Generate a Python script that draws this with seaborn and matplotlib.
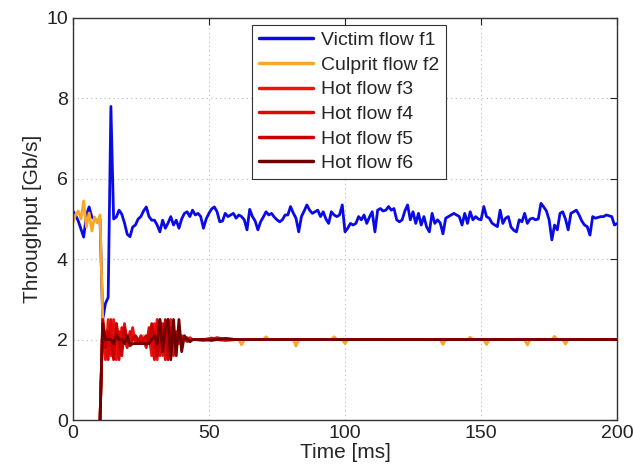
import pandas as pd
import matplotlib
matplotlib.use("Agg")
import matplotlib.pyplot as plt
import seaborn as sns

# Victim flow f1, sampled every 1 ms from 0 to 200 ms
victim_time = list(range(0, 201))
victim_tput = [
    5.2, 5.1, 4.95, 4.75, 4.55, 5.1, 5.3, 5.05, 5.0, 4.95,
    5.0, 2.5, 2.9, 3.05, 7.8, 5.0, 5.05, 5.22, 5.12, 4.9,
    4.62, 4.56, 4.8, 4.85, 5.0, 5.06, 5.2, 5.3, 5.06, 4.97,
    4.97, 4.85, 4.68, 4.97, 4.77, 4.9, 5.06, 4.85, 4.97, 4.77,
    5.0, 5.14, 5.18, 5.06, 5.22, 5.1, 5.14, 5.06, 4.77, 5.0,
    5.14, 5.25, 5.3, 5.18, 4.93, 4.95, 5.14, 5.06, 5.1, 5.14,
    5.02, 5.1, 5.06, 4.98, 4.73, 5.24, 5.06, 4.95, 4.73, 4.93,
    5.05, 5.18, 5.1, 5.14, 5.05, 4.98, 4.93, 4.98, 5.1, 5.1,
    5.31, 5.15, 5.02, 4.68, 5.06, 5.2, 5.35, 5.22, 5.14, 5.18,
    5.22, 5.06, 5.18, 5.0, 4.89, 5.18, 5.1, 5.06, 5.1, 5.35,
    4.68, 4.77, 4.89, 4.85, 4.89, 5.06, 4.98, 5.1, 4.89, 5.05,
    5.18, 4.68, 5.22, 5.26, 5.2, 5.22, 5.31, 5.22, 5.26, 4.98,
    4.93, 4.98, 5.2, 5.35, 4.98, 5.18, 4.89, 5.14, 4.85, 5.06,
    4.8, 4.68, 5.14, 4.89, 4.98, 4.9, 4.63, 5.02, 5.06, 5.1,
    5.14, 5.1, 5.06, 4.85, 5.14, 4.89, 5.18, 4.98, 5.06, 5.0,
    4.98, 5.31, 5.06, 5.02, 4.9, 4.85, 4.81, 5.22, 4.89, 5.02,
    5.06, 4.8, 4.72, 4.68, 4.98, 4.93, 5.14, 4.89, 5.0, 5.02,
    4.98, 5.0, 5.39, 5.3, 5.2, 4.98, 4.48, 4.85, 4.73, 5.14,
    5.18, 5.0, 4.73, 5.14, 5.18, 5.22, 5.1, 4.95, 4.85, 4.81,
    4.6, 5.06, 5.02, 5.04, 5.06, 5.06, 5.1, 5.08, 5.06, 4.85,
    4.89,
]

# Culprit flow f2: 1 ms samples up to 45 ms, then the points around its small dips
culprit_time = list(range(0, 46)) + [
    46, 50, 55, 60, 61, 62, 63, 70, 71, 72, 80, 81, 82, 83, 90, 95, 96, 97,
    99, 100, 101, 110, 120, 130, 135, 136, 137, 145, 146, 147, 151, 152, 153,
    160, 166, 167, 168, 176, 177, 178, 180, 181, 182, 190, 200,
]
culprit_tput = [
    4.9, 5.1, 5.2, 5.0, 5.45, 4.8, 5.15, 4.7, 5.05, 4.9,
    5.1, 2.5, 2.2, 1.8, 2.3, 1.7, 2.2, 1.9, 2.1, 2.0,
    1.9, 2.1, 2.0, 2.0, 1.9, 2.0, 2.1, 2.0, 1.9, 2.2,
    1.8, 2.2, 1.8, 2.1, 1.9, 2.0, 2.1, 1.95, 2.0, 2.0,
    2.0, 2.0, 2.0, 2.0, 2.0, 2.0,
    2.0, 2.0, 2.0, 2.0, 2.0, 1.87, 2.0, 2.0, 2.07, 2.0, 2.0, 2.0, 1.84, 2.0, 2.0, 2.0, 2.07, 2.0,
    2.0, 1.9, 2.0, 2.0, 2.0, 2.0, 2.0, 1.88, 2.0, 2.0, 2.06, 2.0, 2.0, 1.88, 2.0,
    2.0, 2.0, 1.87, 2.0, 2.0, 2.08, 2.0, 2.0, 1.89, 2.0, 2.0, 2.0,
]

# Hot flows f3..f6 start at 10 ms
hot_time = list(range(10, 46)) + [48, 51, 53, 56, 60, 80, 100, 120, 140, 160, 180, 200]
hot_f3 = [
    0.0, 2.5, 1.5, 2.5, 1.6, 2.5, 1.5, 2.2, 1.8, 2.4,
    1.9, 2.0, 2.3, 1.9, 2.0, 2.0, 1.9, 2.0, 2.1, 1.6,
    2.4, 1.5, 2.5, 1.6, 2.3, 1.7, 2.5, 1.6, 2.2, 1.9,
    2.1, 2.0, 1.95, 2.05, 2.0, 2.0,
    2.0, 2.04, 2.0, 2.02, 2.0, 2.0, 2.0, 2.0, 2.0, 2.0, 2.0, 2.0,
]
hot_f4 = [
    0.0, 2.4, 2.0, 1.5, 2.5, 1.6, 2.4, 1.5, 2.3, 2.0,
    1.8, 2.2, 2.0, 2.0, 1.9, 2.1, 2.0, 1.8, 2.3, 2.0,
    1.5, 2.5, 1.6, 2.4, 1.5, 2.5, 1.7, 2.2, 1.8, 2.1,
    2.0, 2.0, 2.05, 1.95, 2.0, 2.0,
    2.0, 2.0, 2.05, 2.0, 2.0, 2.0, 2.0, 2.0, 2.0, 2.0, 2.0, 2.0,
]
hot_f5 = [
    0.0, 2.5, 1.8, 2.2, 2.0, 1.5, 2.4, 2.0, 1.6, 2.3,
    2.0, 1.9, 2.0, 2.1, 2.0, 1.9, 2.0, 2.1, 1.9, 2.4,
    2.0, 1.6, 2.2, 1.9, 2.5, 1.5, 2.3, 1.9, 2.0, 2.2,
    1.9, 2.05, 2.0, 2.0, 2.0, 2.0,
    1.98, 2.02, 2.0, 1.98, 2.0, 2.0, 2.0, 2.0, 2.0, 2.0, 2.0, 2.0,
]
hot_f6 = [
    0.0, 2.4, 2.0, 2.0, 2.0, 1.9, 2.1, 2.0, 2.0, 1.9,
    2.1, 1.85, 1.9, 1.9, 1.9, 1.9, 1.9, 1.9, 1.9, 2.0,
    2.1, 1.9, 2.5, 1.7, 2.3, 2.5, 1.5, 2.5, 1.6, 2.5,
    1.7, 2.1, 2.0, 1.95, 2.0, 2.0,
    2.0, 1.98, 2.0, 2.03, 2.0, 2.0, 2.0, 2.0, 2.0, 2.0, 2.0, 2.0,
]

flow_names = ["Victim flow f1", "Culprit flow f2", "Hot flow f3",
              "Hot flow f4", "Hot flow f5", "Hot flow f6"]
flow_colors = ["#0a0ae6", "#f9a825", "#ee1111", "#dd0808", "#c80000", "#6e0000"]

series = [(victim_time, victim_tput), (culprit_time, culprit_tput),
          (hot_time, hot_f3), (hot_time, hot_f4), (hot_time, hot_f5), (hot_time, hot_f6)]
frames = []
for name, (t, v) in zip(flow_names, series):
    frames.append(pd.DataFrame({"time": t, "tput": v, "flow": name}))
df = pd.concat(frames, ignore_index=True)

sns.set_style("white")
plt.rcParams["font.family"] = ["Liberation Sans", "DejaVu Sans"]

fig = plt.figure(figsize=(6.33, 4.73), dpi=100)
ax = fig.add_axes([0.115, 0.112, 0.860, 0.850])

sns.lineplot(data=df, x="time", y="tput", hue="flow", hue_order=flow_names,
             palette=dict(zip(flow_names, flow_colors)), estimator=None,
             sort=False, linewidth=2, ax=ax)

ax.set_xlim(0, 200)
ax.set_ylim(0, 10)
ax.set_xticks([0, 50, 100, 150, 200])
ax.set_yticks([0, 2, 4, 6, 8, 10])
ax.grid(True, linestyle=(0, (1, 3)), color="#b8b8b8", linewidth=0.8)
ax.tick_params(direction="in", length=5, width=0.8, labelsize=14,
               top=True, right=True, colors="#222222")
for sp in ax.spines.values():
    sp.set_color("#333333")
    sp.set_linewidth(1.0)

ax.set_xlabel("Time [ms]", fontsize=15, labelpad=1)
ax.set_ylabel("Throughput [Gb/s]", fontsize=15, labelpad=3)

handles, labels = ax.get_legend_handles_labels()
leg = ax.legend(handles, labels, loc="upper left", bbox_to_anchor=(0.329, 0.983),
                borderaxespad=0, fontsize=14, frameon=True, fancybox=False,
                handlelength=2.8, handletextpad=0.4, labelspacing=0.36,
                borderpad=0.35)
leg.get_frame().set_edgecolor("#333333")
leg.get_frame().set_linewidth(0.8)
leg.get_frame().set_alpha(1)
for line in leg.get_lines():
    line.set_linewidth(2.5)

plt.savefig("out.png", dpi=100)
